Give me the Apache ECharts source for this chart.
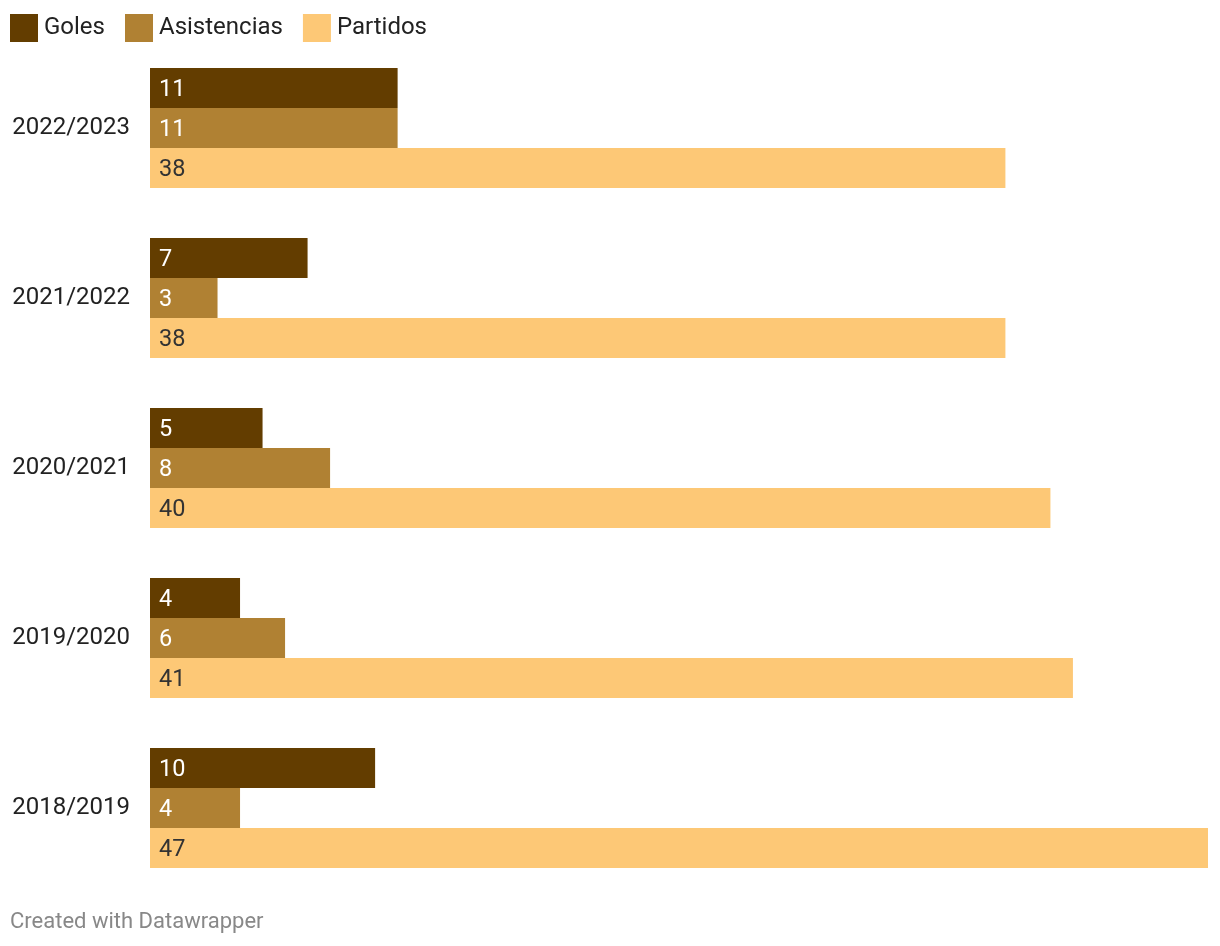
<!DOCTYPE html>
<html><head><meta charset="utf-8">
<script src="https://cdn.jsdelivr.net/npm/echarts@6/dist/echarts.min.js"></script>
<style>html,body{margin:0;padding:0;background:#fff;}#c{width:1220px;height:946px;}</style>
</head><body><div id="c"></div>
<script>
const seasons = ['2022/2023','2021/2022','2020/2021','2019/2020','2018/2019'];
const goles = [11,7,5,4,10];
const asistencias = [11,3,8,6,4];
const partidos = [38,38,40,41,47];
const seriesNames = ['Goles','Asistencias','Partidos'];
const colors = ['#633d00','#b08133','#fdc876'];
const labelColors = ['#ffffff','#ffffff','#333333'];
const values = [goles, asistencias, partidos];

const chart = echarts.init(document.getElementById('c'));
chart.setOption({
  animation:false,
  textStyle:{fontFamily:'Roboto'},
  legend:{
    left:10, top:14, padding:0, itemWidth:28, itemHeight:28, itemGap:20,
    icon:'rect',
    textStyle:{fontSize:24, color:'#222', fontFamily:'Roboto', padding:[2,0,0,1]},
    data: seriesNames
  },
  grid:{left:150, right:12, top:43, bottom:53, containLabel:false},
  xAxis:{type:'value', min:0, max:47, show:false},
  yAxis:{type:'category', data:seasons, inverse:true,
    axisLine:{show:false}, axisTick:{show:false},
    axisLabel:{fontSize:24, color:'#222', margin:20, fontFamily:'Roboto'}},
  graphic:[{type:'text', left:10, top:911, style:{text:'Created with Datawrapper', fontSize:22, fill:'#888', fontFamily:'Roboto'}}],
  series: seriesNames.map((n,i)=>({
    name:n, type:'bar', data:values[i], barWidth:40, barGap:'0%',
    itemStyle:{color:colors[i]},
    label:{show:true, position:'insideLeft', distance:9, offset:[0,2], fontSize:23.5, color:labelColors[i], fontFamily:'Roboto'}
  }))
});
</script></body></html>
